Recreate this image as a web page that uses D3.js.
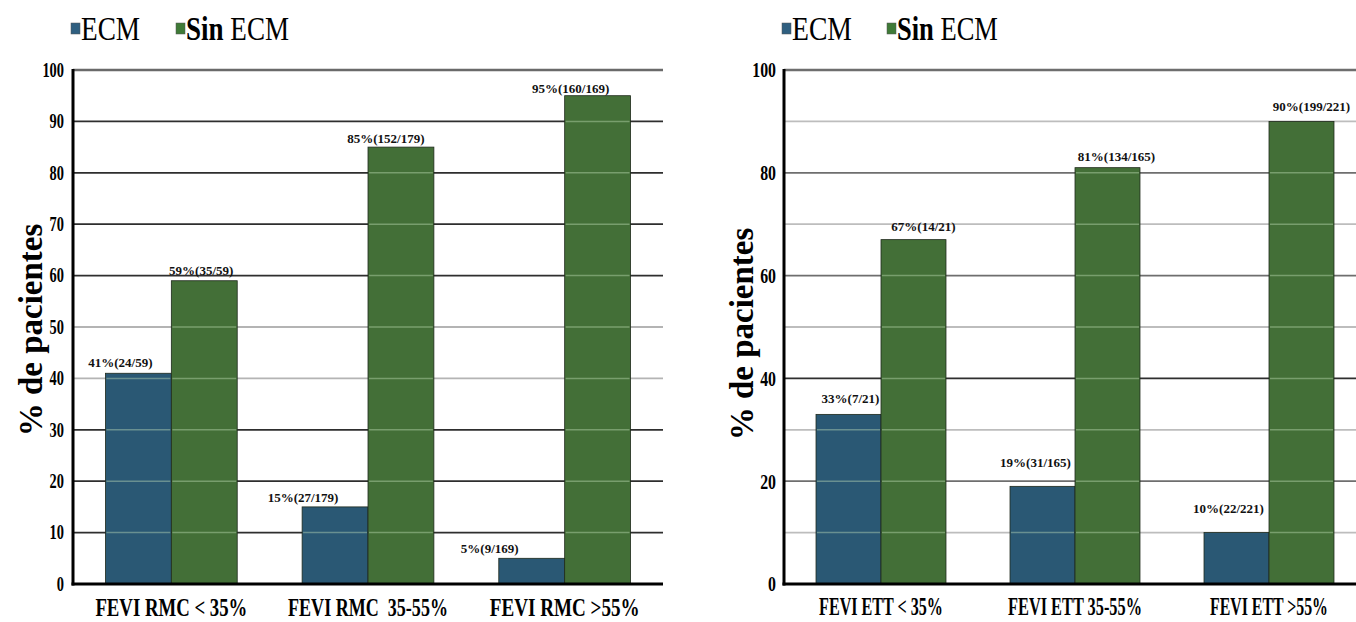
<!DOCTYPE html>
<html>
<head>
<meta charset="utf-8">
<script src="https://cdn.jsdelivr.net/npm/d3@7"></script>
<style>
  html, body { margin: 0; padding: 0; background: #fff; }
  svg text { font-family: "Liberation Serif", "Times New Roman", Times, "DejaVu Serif", serif; }
</style>
</head>
<body>
<svg id="chart" width="1356" height="622"></svg>
<script>
// ---- data ----
const series = ["ECM", "Sin ECM"];

const rmcCategories = ["FEVI RMC < 35%", "FEVI RMC  35-55%", "FEVI RMC >55%"];
const rmcECM = [41, 15, 5];
const rmcSinECM = [59, 85, 95];
const rmcECMLabels = ["41%(24/59)", "15%(27/179)", "5%(9/169)"];
const rmcSinECMLabels = ["59%(35/59)", "85%(152/179)", "95%(160/169)"];
const rmcTicks = [0, 10, 20, 30, 40, 50, 60, 70, 80, 90, 100];

const ettCategories = ["FEVI ETT < 35%", "FEVI ETT 35-55%", "FEVI ETT >55%"];
const ettECM = [33, 19, 10];
const ettSinECM = [67, 81, 90];
const ettECMLabels = ["33%(7/21)", "19%(31/165)", "10%(22/221)"];
const ettSinECMLabels = ["67%(14/21)", "81%(134/165)", "90%(199/221)"];
const ettTicks = [0, 20, 40, 60, 80, 100];

const yTitle = "% de pacientes";

// ---- styling ----
const FONT = "'Liberation Serif', 'Times New Roman', Times, 'DejaVu Serif', serif";
const colors = { "ECM": "#2a5874", "Sin ECM": "#436f37" };
const legendColors = { "ECM": "#2f5f80", "Sin ECM": "#3f7a37" };

const svg = d3.select("#chart");

function drawPanel(cfg) {
  const g = svg.append("g").attr("font-family", FONT);
  const x0 = d3.scaleBand().domain(cfg.categories).range([cfg.left, cfg.right])
    .paddingInner(0.33).paddingOuter(0.165);
  const x1 = d3.scaleBand().domain(series).range([0, x0.bandwidth()]);
  const y = d3.scaleLinear().domain([0, 100]).range([cfg.bottom, cfg.top]);

  // horizontal grid lines (every 10)
  const gridVals = d3.range(10, 101, 10);
  g.append("g").selectAll("line").data(gridVals).join("line")
    .attr("x1", cfg.left).attr("x2", cfg.gridRight)
    .attr("y1", d => y(d)).attr("y2", d => y(d))
    .attr("stroke", d => cfg.gridColor(d))
    .attr("stroke-width", d => d === 100 ? 2.5 : 1.8);

  const rows = cfg.categories.map((c, i) => ({
    cat: c,
    vals: [
      { key: "ECM", v: cfg.ecm[i], label: cfg.ecmLabels[i], dx: cfg.ecmDx[i], dy: cfg.ecmDy[i] },
      { key: "Sin ECM", v: cfg.sin[i], label: cfg.sinLabels[i], dx: cfg.sinDx[i], dy: cfg.sinDy[i] }
    ]
  }));

  const groups = g.append("g").selectAll("g").data(rows).join("g")
    .attr("transform", d => `translate(${x0(d.cat)},0)`);

  groups.selectAll("rect").data(d => d.vals).join("rect")
    .attr("x", d => x1(d.key))
    .attr("y", d => y(d.v))
    .attr("width", x1.bandwidth())
    .attr("height", d => y(0) - y(d.v))
    .attr("fill", d => colors[d.key])
    .attr("stroke", "#1f2a1c")
    .attr("stroke-width", 0.8);

  // faint grid lines showing through the bars
  groups.each(function (row) {
    const gg = d3.select(this);
    row.vals.forEach(b => {
      gg.selectAll(null).data(gridVals.filter(t => t < b.v)).join("line")
        .attr("x1", x1(b.key) + 1).attr("x2", x1(b.key) + x1.bandwidth() - 1)
        .attr("y1", t => y(t)).attr("y2", t => y(t))
        .attr("stroke", "rgba(200,230,190,0.4)").attr("stroke-width", 1.5);
    });
  });

  // value labels
  groups.selectAll("text.val").data(d => d.vals).join("text")
    .attr("class", "val")
    .attr("x", d => x1(d.key) + x1.bandwidth() / 2 + d.dx)
    .attr("y", d => y(d.v) - d.dy)
    .attr("text-anchor", "middle")
    .attr("font-size", 13).attr("font-weight", "bold").attr("fill", "#111")
    .text(d => d.label);

  // axes lines
  g.append("line").attr("x1", cfg.left).attr("x2", cfg.left)
    .attr("y1", y(100) - 1).attr("y2", y(0) + 1.5)
    .attr("stroke", "#000").attr("stroke-width", 3);
  g.append("line").attr("x1", cfg.left - 1.5).attr("x2", cfg.gridRight)
    .attr("y1", y(0)).attr("y2", y(0))
    .attr("stroke", "#000").attr("stroke-width", 3);

  // y tick labels (narrow, tall numerals)
  g.append("g").selectAll("text").data(cfg.ticks).join("text")
    .attr("transform", d => `translate(${cfg.left - cfg.tickGap},${y(d) + cfg.tickSize * 0.34}) scale(0.72,1)`)
    .attr("text-anchor", "end")
    .attr("font-size", cfg.tickSize).attr("font-weight", "bold")
    .text(d => d);

  // y title
  g.append("text")
    .attr("transform", `translate(${cfg.titleX},${cfg.titleY}) rotate(-90)`)
    .attr("text-anchor", "middle")
    .attr("font-size", 33).attr("font-weight", "bold")
    .text(yTitle);

  // x category labels, condensed to fit their group
  g.append("g").selectAll("text").data(cfg.categories).join("text")
    .attr("text-anchor", "middle")
    .attr("font-size", cfg.xLabelSize).attr("font-weight", "bold")
    .attr("xml:space", "preserve")
    .text(d => d)
    .attr("transform", function (d, i) {
      const s = cfg.xLabelWidths[i] / this.getComputedTextLength();
      return `translate(${x0(d) + x0.bandwidth() / 2},${cfg.xLabelY}) scale(${s},1)`;
    });

  // legend
  const lg = g.append("g");
  series.forEach((s, i) => {
    const lx = cfg.legendX[i];
    lg.append("rect").attr("x", lx).attr("y", 23).attr("width", 9).attr("height", 11)
      .attr("fill", legendColors[s]).attr("stroke", "#555").attr("stroke-width", 0.5);
    const item = lg.append("g");
    const parts = s === "Sin ECM" ? [["Sin", "bold"], [" ECM", "normal"]] : [[s, "normal"]];
    let cx = 0;
    parts.forEach(([txt, w]) => {
      const t = item.append("text").attr("x", cx).attr("y", 0)
        .attr("xml:space", "preserve")
        .attr("font-size", 33).attr("font-weight", w).attr("fill", "#000")
        .text(txt);
      cx += t.node().getComputedTextLength();
    });
    const sx = cfg.legendWidths[i] / cx;
    item.attr("transform", `translate(${lx + 10},40) scale(${sx},1)`);
  });
}

// left panel: FEVI by RMC
drawPanel({
  categories: rmcCategories,
  ecm: rmcECM, sin: rmcSinECM,
  ecmLabels: rmcECMLabels, sinLabels: rmcSinECMLabels,
  ecmDx: [-18, -32, -42], ecmDy: [6, 5, 5],
  sinDx: [-3, -15, -27], sinDy: [6, 4, 3],
  ticks: rmcTicks,
  left: 73, right: 663, gridRight: 663, top: 70, bottom: 584,
  gridColor: d => (d === 40 || d === 50) ? "#b4b4b4" : (d === 100 ? "#6a6a6a" : "#2e2e2e"),
  tickGap: 9, tickSize: 20,
  titleX: 42, titleY: 330,
  xLabelY: 616, xLabelSize: 26, xLabelWidths: [152, 160, 150],
  legendX: [71, 176], legendWidths: [59, 103]
});

// right panel: FEVI by ETT
drawPanel({
  categories: ettCategories,
  ecm: ettECM, sin: ettSinECM,
  ecmLabels: ettECMLabels, sinLabels: ettSinECMLabels,
  ecmDx: [2, -7, -8], ecmDy: [11, 19, 20],
  sinDx: [10, 9, 10], sinDy: [9, 7, 10],
  ticks: ettTicks,
  left: 784, right: 1366, gridRight: 1356, top: 70, bottom: 584,
  gridColor: d => (d % 20 !== 0) ? "#bdbdbd" : (d === 40 ? "#2e2e2e" : "#6e6e6e"),
  tickGap: 8, tickSize: 22,
  titleX: 753, titleY: 334,
  xLabelY: 615, xLabelSize: 25, xLabelWidths: [124, 134, 118],
  legendX: [782, 887], legendWidths: [60, 101]
});
</script>
</body>
</html>
